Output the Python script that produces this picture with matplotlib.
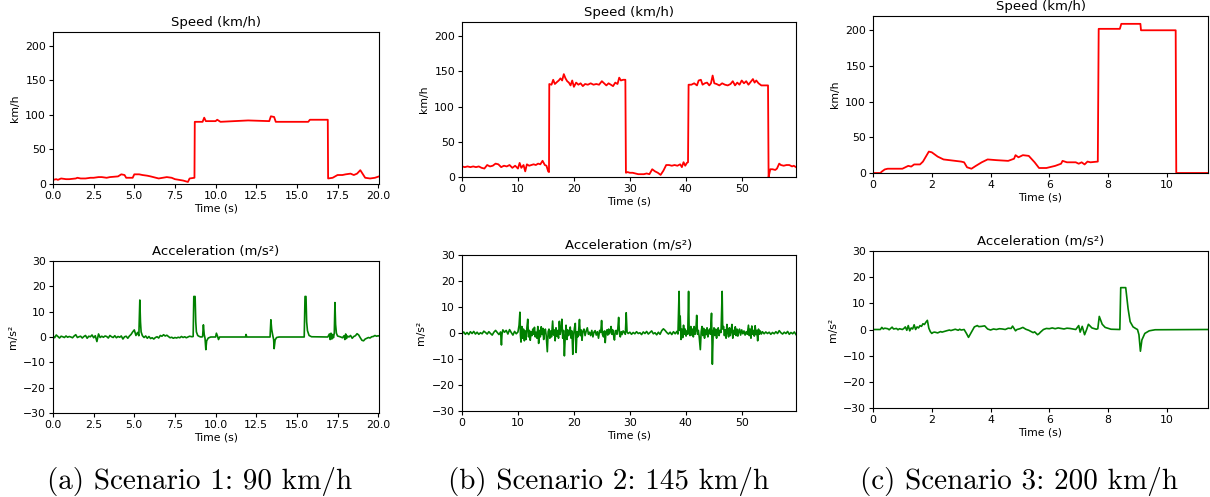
import numpy as np
import matplotlib
matplotlib.use("Agg")
import matplotlib.pyplot as plt

# ---- scenario 1: 90 km/h  (time s, value) ----
speed_1 = [
    (0.0, 6), (0.2, 7), (0.3, 6), (0.5, 8), (0.8, 7), (1.0, 7), (1.4, 8), (1.5, 9), (1.7, 8),
    (2.0, 8), (2.3, 9), (2.5, 9), (2.8, 10), (3.0, 10), (3.3, 9), (3.5, 10), (4.0, 11),
    (4.2, 14), (4.4, 13), (4.5, 9), (4.9, 9), (5.0, 14), (5.3, 14), (5.5, 13), (5.8, 12),
    (6.0, 11), (6.5, 8), (7.0, 10), (7.3, 9), (7.5, 7), (8.0, 5), (8.3, 3), (8.4, 8),
    (8.7, 9), (8.72, 90), (9.2, 90), (9.3, 96), (9.4, 91), (10.0, 91), (10.1, 93), (10.3, 90),
    (12.0, 92), (13.3, 91), (13.4, 98), (13.6, 97), (13.7, 90), (15.7, 90), (15.8, 93),
    (16.9, 93), (16.92, 8), (17.2, 9), (17.5, 13), (17.8, 13), (18.0, 14), (18.3, 15),
    (18.5, 13), (18.7, 15), (18.9, 20), (19.2, 9), (19.5, 8), (19.8, 9), (20.05, 11),
]
acc_1_start = [0.5, -0.3, 0.8, 0.2, -0.4, 0.3, 0.1, -0.2, 0.4, -0.1,
               0.2, 0.0, -0.3, 0.4, 0.9, -0.2, 0.1, 0.3, -0.4, 0.2,
               0.6, -0.5, 0.3, 0.1, 0.8, -0.3, 0.5, -1.8, 1.2, -0.2,
               0.3, -0.1, 0.4, 0.2, -0.4, 0.6, 0.1, -0.2, 0.5, -0.3,
               0.2, -0.1, 0.4, -0.8, 0.1, 0.3, -0.5, 0.4, 1.0, 2.0]  # every 0.1 s from 0 to 4.9
acc_1 = [
    (5.0, 2.8), (5.1, 0.6), (5.2, 1.8), (5.28, 0.5), (5.34, 14.6), (5.38, 6.0), (5.42, 2.0),
    (5.5, 0.5), (5.6, -0.2), (5.7, 0.4), (5.8, -0.5), (5.9, 0.2), (6.0, -0.6), (6.1, -0.3),
    (6.2, -0.8), (6.3, -0.2), (6.4, 0.1), (6.5, -0.4), (6.6, 0.6), (6.7, 0.3), (6.8, 0.9),
    (6.9, 0.4), (7.0, 0.7), (7.1, 0.2), (7.2, -0.3), (7.3, -0.1), (7.4, -0.5), (7.5, -0.2),
    (7.6, -0.4), (7.7, -0.1), (7.8, -0.3), (7.9, 0.2), (8.0, -0.2), (8.1, 0.1), (8.2, -0.3),
    (8.3, 0.0), (8.4, 0.3), (8.55, 0.1), (8.62, 0.2), (8.66, 16.0), (8.74, 16.0), (8.78, 6.0),
    (8.82, 2.0), (8.9, 0.6), (9.0, 0.2), (9.1, 0.0), (9.2, 0.1), (9.25, 4.8), (9.3, 1.0),
    (9.35, -0.5), (9.4, -5.0), (9.45, -1.5), (9.55, -0.4), (9.7, 0.0), (10.0, 0.0),
    (10.05, 1.5), (10.12, 0.3), (10.18, -1.0), (10.25, 0.0), (11.84, 0.0), (11.87, 1.0),
    (11.92, 0.0), (13.35, 0.0), (13.4, 6.8), (13.45, 3.0), (13.52, 0.5), (13.57, -1.0),
    (13.6, -4.6), (13.66, -1.2), (13.75, -0.2), (13.9, 0.0), (15.45, 0.0), (15.5, 16.0),
    (15.56, 16.0), (15.6, 6.0), (15.65, 2.5), (15.75, 0.6), (15.9, 0.1), (16.9, 0.0),
    (17.0, 1.2), (17.05, -1.0), (17.1, 1.5), (17.15, -0.8), (17.2, 1.0), (17.25, -0.3),
    (17.3, 1.5), (17.34, 13.6), (17.38, 5.0), (17.43, 1.5), (17.5, 0.4), (17.6, 0.2),
    (17.7, 0.0), (17.8, -0.3), (17.9, 0.5), (17.95, -1.0), (18.0, 1.2), (18.05, -0.6),
    (18.1, 0.4), (18.2, 0.0), (18.3, 0.6), (18.4, -0.5), (18.5, 0.2), (18.6, 0.5),
    (18.7, 1.3), (18.8, 0.8), (18.9, -0.3), (19.0, -1.3), (19.1, -1.5), (19.2, -0.8),
    (19.3, -0.5), (19.4, -0.2), (19.5, -0.4), (19.6, 0.1), (19.7, 0.2), (19.8, 0.6),
    (19.9, 0.3), (20.0, 0.5), (20.05, 0.4),
]

# ---- scenario 2: 145 km/h ----
speed_2 = [
    (0, 15), (0.5, 14), (1, 15), (1.5, 14), (2, 15), (2.5, 14), (3, 15), (3.5, 13), (4, 12),
    (4.5, 17), (5, 15), (5.5, 16), (6, 19), (6.5, 18), (7, 14), (7.5, 16), (8, 15), (8.5, 17),
    (9, 13), (9.5, 16), (10, 12), (10.3, 20), (10.6, 13), (11, 17), (11.3, 8), (11.6, 18),
    (12, 16), (12.4, 17), (12.8, 18), (13.2, 17), (13.6, 19), (14, 18), (14.4, 23), (14.8, 17),
    (15.1, 16), (15.4, 8), (15.55, 7), (15.6, 132), (16, 131), (16.3, 138), (16.6, 132),
    (17, 135), (17.3, 137), (17.6, 140), (17.9, 137), (18.2, 146), (18.5, 140), (18.8, 136),
    (19.1, 134), (19.4, 130), (19.7, 137), (20, 128), (20.4, 134), (20.8, 131), (21.2, 133),
    (21.6, 129), (22, 132), (22.5, 131), (23, 133), (23.5, 131), (24, 132), (24.5, 131),
    (25, 136), (25.4, 133), (25.8, 130), (26.2, 133), (26.6, 131), (27, 129), (27.4, 134),
    (27.8, 132), (28.1, 141), (28.4, 137), (28.8, 138), (29.2, 138), (29.3, 6), (29.6, 7),
    (30, 6), (30.5, 6), (31, 5), (31.5, 4), (32, 4), (32.5, 4), (33, 5), (33.5, 4), (34, 11),
    (34.5, 8), (35, 6), (35.5, 3), (36, 9), (36.5, 17), (37, 17), (37.5, 16), (38, 17),
    (38.5, 16), (39, 18), (39.3, 14), (39.6, 21), (39.9, 16), (40.2, 20), (40.4, 21),
    (40.5, 131), (41, 131), (41.5, 133), (42, 130), (42.3, 137), (42.7, 138), (43, 131),
    (43.4, 133), (43.8, 134), (44.2, 130), (44.5, 133), (44.8, 144), (45.1, 133), (45.5, 132),
    (46, 130), (46.5, 133), (47, 131), (47.5, 130), (48, 132), (48.4, 136), (48.8, 130),
    (49.2, 134), (49.6, 131), (50, 137), (50.4, 133), (50.8, 136), (51.2, 131), (51.6, 135),
    (52, 139), (52.3, 134), (52.6, 137), (53, 133), (53.5, 130), (54, 130), (54.7, 130),
    (54.8, 0), (55.1, 11), (55.5, 11), (56, 10), (56.3, 12), (56.7, 19), (57, 17), (57.5, 16),
    (58, 17), (58.5, 17), (59, 15), (59.3, 16), (59.7, 14),
]
acc_2 = [
    (0.0, -0.3), (0.3, 0.4), (0.6, -0.5), (0.9, 0.2), (1.2, -0.6), (1.5, 0.5), (1.8, -0.2),
    (2.1, 0.6), (2.4, -0.4), (2.7, 0.3), (3.0, -0.5), (3.3, 0.1), (3.6, -0.3), (3.9, 0.7),
    (4.2, 0.2), (4.5, -0.4), (4.8, 0.5), (5.1, -0.2), (5.4, -0.8), (5.7, 0.3), (6.0, 1.0),
    (6.3, 0.2), (6.6, -0.6), (6.9, 0.4), (7.05, -4.6), (7.15, -0.5), (7.3, 1.2), (7.6, 0.3),
    (7.9, 1.0), (8.2, -0.4), (8.5, 1.3), (8.8, 0.2), (9.1, -0.8), (9.4, 0.6), (9.7, -0.3),
    (10.0, 0.4), (10.2, 3.0), (10.35, 8.0), (10.45, -1.0), (10.55, -3.5), (10.7, 2.5),
    (10.85, -2.0), (11.0, 1.5), (11.15, -3.0), (11.3, 0.8), (11.45, -2.5), (11.6, 2.0),
    (11.75, 5.3), (11.9, -1.5), (12.05, 1.0), (12.2, -2.8), (12.35, 0.5), (12.5, -1.0),
    (12.65, 1.5), (12.8, -0.5), (12.95, 2.2), (13.1, -1.5), (13.25, 0.3), (13.4, -2.0),
    (13.55, 2.5), (13.7, -4.0), (13.85, 1.0), (14.0, -1.5), (14.15, 2.4), (14.3, -0.6),
    (14.45, 1.8), (14.6, -2.5), (14.75, 0.5), (14.9, 1.5), (15.05, -1.0), (15.25, -7.2),
    (15.4, 0.5), (15.55, 1.5), (15.7, -2.0), (15.85, 0.8), (16.0, -1.5), (16.2, 4.6),
    (16.35, -0.8), (16.5, 1.2), (16.65, -3.0), (16.8, 2.0), (16.95, -1.2), (17.1, 1.0),
    (17.25, -2.0), (17.4, 4.5), (17.55, -0.5), (17.7, 1.5), (17.85, 5.3), (18.0, -2.0),
    (18.15, 1.0), (18.3, -8.8), (18.45, -1.5), (18.6, 3.0), (18.75, -2.5), (18.9, 1.2),
    (19.05, -1.0), (19.2, 0.5), (19.35, 2.3), (19.5, -2.0), (19.65, 0.8), (19.8, -8.2),
    (19.95, -0.8), (20.1, 2.0), (20.25, 3.7), (20.4, -7.5), (20.55, 0.5), (20.7, -1.5),
    (20.85, 1.0), (21.0, 5.2), (21.15, -1.0), (21.3, 1.2), (21.45, -2.8), (21.6, 0.6),
    (21.8, 1.5), (22.0, -1.0), (22.2, 0.8), (22.4, 2.0), (22.6, -0.5), (22.8, 0.3),
    (23.0, -1.0), (23.2, 1.0), (23.4, -1.5), (23.6, 0.4), (23.8, 0.9), (24.0, -0.8),
    (24.2, 0.5), (24.4, -2.0), (24.6, 1.0), (24.8, 0.2), (24.95, 4.8), (25.1, -0.5),
    (25.3, -1.5), (25.45, 0.8), (25.6, -3.7), (25.75, 0.5), (25.9, 1.2), (26.05, -0.8),
    (26.2, 1.5), (26.35, -0.3), (26.5, 0.6), (26.65, 2.5), (26.8, -0.5), (26.95, 1.2),
    (27.1, -1.0), (27.25, -2.7), (27.4, 0.8), (27.55, 1.0), (27.7, -0.5), (27.85, 1.5),
    (28.0, 6.0), (28.15, -0.3), (28.3, -1.5), (28.45, 0.5), (28.6, -0.6), (28.8, 0.8),
    (29.0, 0.2), (29.2, -0.5), (29.35, 7.8), (29.5, 0.4), (29.7, -0.2), (30.0, 0.3),
    (30.3, -0.5), (30.6, 0.2), (30.9, -0.3), (31.2, 0.5), (31.5, -0.2), (31.8, 0.1),
    (32.1, -0.6), (32.4, 0.4), (32.7, -0.2), (33.0, 0.6), (33.3, -0.4), (33.6, 0.2),
    (33.9, 0.8), (34.2, -0.3), (34.5, 0.1), (34.8, -0.7), (35.1, 0.3), (35.4, -0.5),
    (35.7, 0.9), (36.0, 1.6), (36.3, 1.0), (36.6, 0.2), (36.9, -0.4), (37.2, 0.3),
    (37.5, -0.6), (37.8, 0.5), (38.1, -0.3), (38.4, 0.6), (38.6, -0.4), (38.8, 16.0),
    (38.9, 1.0), (39.0, 6.5), (39.15, -2.5), (39.3, 1.5), (39.45, -1.8), (39.6, 3.0),
    (39.75, -0.5), (39.9, 1.5), (40.05, -1.2), (40.2, 0.8), (40.35, -0.5), (40.5, 16.0),
    (40.6, 1.0), (40.75, -1.0), (40.9, 2.5), (41.05, -0.8), (41.2, 1.5), (41.35, -1.5),
    (41.5, 2.5), (41.65, -0.5), (41.8, 1.0), (41.95, 6.8), (42.1, -0.5), (42.25, 1.0),
    (42.4, -1.5), (42.6, -6.4), (42.75, 0.5), (42.9, 2.5), (43.05, -1.0), (43.2, 1.8),
    (43.35, -2.0), (43.5, 1.2), (43.65, -0.6), (43.8, 2.0), (43.95, -1.5), (44.1, 0.6),
    (44.25, 1.5), (44.4, -0.5), (44.6, 7.6), (44.75, -12.0), (44.9, 0.5), (45.05, 2.0),
    (45.2, -1.0), (45.35, 1.5), (45.5, -2.0), (45.65, 0.5), (45.8, 2.0), (45.95, -1.0),
    (46.1, 1.0), (46.3, 0.2), (46.5, 16.0), (46.6, 1.5), (46.75, 2.5), (46.9, -1.0),
    (47.05, 1.2), (47.2, -2.0), (47.35, 3.3), (47.5, 0.3), (47.65, -1.5), (47.8, 2.0),
    (47.95, -1.0), (48.1, 0.8), (48.25, 3.3), (48.4, -2.0), (48.55, 1.0), (48.7, -0.5),
    (48.85, 2.4), (49.0, -1.0), (49.15, 1.5), (49.3, -1.2), (49.45, 0.5), (49.6, 1.5),
    (49.8, -0.8), (50.0, 1.2), (50.2, -0.3), (50.4, 0.8), (50.6, -0.8), (50.8, 0.5),
    (51.0, -0.5), (51.2, 3.0), (51.35, -1.0), (51.5, 1.5), (51.65, -2.0), (51.8, 2.7),
    (51.95, -0.5), (52.1, 1.0), (52.25, -1.2), (52.4, 2.8), (52.55, -0.6), (52.7, 1.0),
    (52.85, -3.0), (53.0, 1.5), (53.15, -0.5), (53.3, 0.8), (53.5, -0.4), (53.7, 0.5),
    (54.0, -0.3), (54.3, 0.4), (54.6, -0.2), (54.9, 0.3), (55.2, -0.5), (55.5, 0.2),
    (55.8, -0.3), (56.1, 0.5), (56.4, -0.2), (56.7, 0.9), (57.0, 0.1), (57.3, -0.4),
    (57.6, 0.3), (57.9, -0.2), (58.2, 0.6), (58.5, -0.5), (58.8, 0.2), (59.1, -0.3),
    (59.4, 0.4), (59.7, -0.6),
]

# ---- scenario 3: 200 km/h ----
speed_3 = [
    (0, 0), (0.25, 0), (0.3, 2), (0.4, 5), (0.5, 6), (1.0, 6), (1.1, 8), (1.2, 10), (1.3, 9),
    (1.4, 12), (1.6, 12), (1.7, 16), (1.8, 23), (1.9, 30), (2.0, 29), (2.2, 23), (2.4, 19),
    (2.6, 18), (3.0, 16), (3.1, 15), (3.2, 8), (3.35, 6), (3.5, 10), (3.7, 15), (3.9, 19),
    (4.2, 18), (4.6, 17), (4.8, 20), (4.85, 25), (4.95, 22), (5.1, 25), (5.3, 24), (5.5, 15),
    (5.65, 7), (5.9, 7), (6.2, 10), (6.4, 13), (6.45, 17), (6.6, 15), (6.9, 15), (7.0, 13),
    (7.1, 15), (7.2, 12), (7.3, 16), (7.4, 15), (7.65, 16), (7.68, 202), (8.4, 202),
    (8.45, 209), (9.1, 209), (9.12, 200), (10.3, 200), (10.32, 0), (11.4, 0),
]
acc_3 = [
    (0, 0), (0.25, 0), (0.3, 0.8), (0.35, 0.2), (0.4, 0.5), (0.5, 0.3), (0.55, -0.1),
    (0.6, 0.4), (0.65, 0.9), (0.7, 0.2), (0.8, 0.4), (0.85, -0.1), (0.9, 0.3), (1.0, 0.0),
    (1.05, 0.4), (1.1, 1.0), (1.15, -0.3), (1.2, 1.5), (1.25, -0.5), (1.3, 0.6), (1.35, 0.2),
    (1.4, 1.8), (1.45, 0.0), (1.5, 1.0), (1.55, 0.6), (1.6, 1.5), (1.65, 1.2), (1.7, 2.2),
    (1.75, 1.9), (1.8, 2.8), (1.85, 3.5), (1.9, 0.5), (1.95, -0.8), (2.0, -1.5), (2.05, -1.1),
    (2.1, -1.0), (2.2, -1.3), (2.3, -0.8), (2.35, -1.0), (2.5, -0.5), (2.6, -0.2),
    (2.65, -0.4), (2.8, 0.1), (2.9, -0.3), (2.95, 0.1), (3.0, -0.2), (3.1, 0.0), (3.18, -1.5),
    (3.25, -3.0), (3.35, -1.0), (3.45, 1.0), (3.55, 1.5), (3.6, 1.1), (3.7, 1.2), (3.8, 1.4),
    (3.85, 0.8), (3.9, 0.2), (4.0, -0.2), (4.1, 0.2), (4.2, 0.0), (4.3, 0.3), (4.4, 0.2),
    (4.5, 0.0), (4.6, 0.5), (4.7, 0.4), (4.75, 1.3), (4.85, -0.5), (4.9, 0.0), (5.0, 0.3),
    (5.1, 0.8), (5.2, 0.1), (5.3, -0.3), (5.45, -1.2), (5.5, -0.9), (5.6, -2.0), (5.65, -1.6),
    (5.7, -1.0), (5.8, 0.0), (5.9, 0.4), (6.0, 0.3), (6.1, 0.6), (6.2, 0.3), (6.3, 0.6),
    (6.4, 0.4), (6.5, 0.2), (6.6, 0.5), (6.7, 0.4), (6.8, 0.2), (6.9, 0.0), (7.0, 1.5),
    (7.05, -1.0), (7.12, 1.2), (7.2, -2.0), (7.27, 0.0), (7.33, 2.0), (7.45, 0.6), (7.6, 0.1),
    (7.65, 0.3), (7.7, 5.0), (7.8, 2.0), (7.9, 0.8), (8.1, 0.1), (8.4, 0.0), (8.43, 16.0),
    (8.6, 16.0), (8.68, 8.0), (8.75, 3.0), (8.85, 1.0), (8.95, 0.3), (9.0, 0.0), (9.05, -2.0),
    (9.1, -8.3), (9.15, -4.0), (9.25, -1.5), (9.4, -0.5), (9.6, -0.1), (11.4, 0.0),
]

captions = ["(a) Scenario 1: 90 km/h", "(b) Scenario 2: 145 km/h", "(c) Scenario 3: 200 km/h"]
xlims = [20.05, 59.7, 11.4]

speeds = [np.array(speed_1).T, np.array(speed_2).T, np.array(speed_3).T]
t1 = np.concatenate([np.arange(len(acc_1_start)) * 0.1, np.array(acc_1).T[0]])
a1 = np.concatenate([acc_1_start, np.array(acc_1).T[1]])
accs = [(t1, a1), np.array(acc_2).T, np.array(acc_3).T]

W, H = 1210, 497
fig = plt.figure(figsize=(W / 100, H / 100), dpi=100)

def box(l, t, r, b):
    # pixel box -> figure fraction
    return [l / W, 1 - b / H, (r - l) / W, (b - t) / H]

speed_boxes = [(53, 32, 379, 184), (462, 22, 796, 177), (873, 16, 1208, 173)]
acc_boxes = [(53, 261, 379, 413), (462, 255, 796, 411), (873, 251, 1208, 408)]
caption_x = [200, 609, 1019]

for i in range(3):
    ax = fig.add_axes(box(*speed_boxes[i]))
    ax.plot(speeds[i][0], speeds[i][1], color='red', lw=1.3)
    ax.set_xlim(0, xlims[i])
    ax.set_ylim(0, 220)
    ax.set_title("Speed (km/h)", fontsize=9.5, pad=4.5)
    ax.set_xlabel("Time (s)", fontsize=7.8, labelpad=1.5)
    ax.set_ylabel("km/h", fontsize=7.8)
    ax.tick_params(labelsize=7.8, length=3, pad=2)

    ax = fig.add_axes(box(*acc_boxes[i]))
    ax.plot(accs[i][0], accs[i][1], color='green', lw=1.2)
    ax.set_xlim(0, xlims[i])
    ax.set_ylim(-30, 30)
    ax.set_title("Acceleration (m/s²)", fontsize=9.5, pad=4.5)
    ax.set_xlabel("Time (s)", fontsize=7.8, labelpad=1.5)
    ax.set_ylabel("m/s²", fontsize=7.8)
    ax.tick_params(labelsize=7.8, length=3, pad=2)

    fig.text(caption_x[i] / W, 8 / H, captions[i], family='cmr10', fontsize=21,
             ha='center', va='baseline')

fig.savefig("out.png", dpi=100)
